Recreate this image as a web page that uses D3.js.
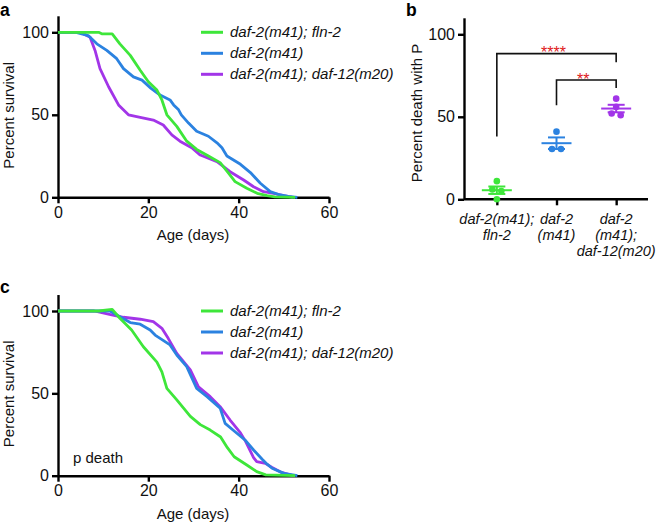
<!DOCTYPE html>
<html><head><meta charset="utf-8">
<script src="https://cdn.jsdelivr.net/npm/d3@7"></script>
<style>
body{margin:0;background:#fff;}
text{font-family:"Liberation Sans",Arial,Helvetica,sans-serif;}
</style></head>
<body>
<svg id="chart" width="657" height="524"></svg>
<script>
// ---------- DATA ----------
const seriesNames = ["daf-2(m41); fln-2", "daf-2(m41)", "daf-2(m41); daf-12(m20)"];
const seriesColors = ["#3ee63a", "#2b82e0", "#a235e8"];

// Panel a: survival (day, percent)
const aFln2 = [[0,100],[9,100],[9.8,99],[12,99],[13.7,93],[16,86],[18.2,77],[20,70],[21.9,65],[23,59],[24.1,50],[26.3,43],[28.5,34],[30.7,29],[33.3,25],[35.9,21],[37.8,14.5],[39.2,9.5],[41.8,5.5],[44.1,2.4],[46.3,1],[48,0.3],[52.5,0]];
const aM41 = [[0,100],[4,100],[6.7,98],[8.6,93],[10.8,89],[13,84],[14.5,78],[16.7,73],[18.6,71],[20.6,66],[22.6,62],[24.8,59],[25.6,56],[26.7,53],[27.3,50],[28.9,45],[30.7,40],[33.3,37],[35.2,33],[36.3,30],[37.4,25],[40.4,20],[42.6,15],[44.8,8.5],[47,3.4],[49.2,1.4],[51,0.5],[53,0]];
const aDaf12 = [[0,100],[5,100],[7.1,97],[8.2,89],[9.3,78],[11.2,67],[13.4,56],[15.6,50],[18.2,48.5],[21.1,46.8],[23.3,43.8],[25.2,37.8],[27,34],[29.6,30],[31.5,25.6],[35.2,21.6],[38.1,15.5],[41.1,10.5],[43.3,6.4],[45.5,3.4],[47.7,2.4],[50,1],[52,0]];

// Panel c: survival, p death
const cFln2 = [[0,100],[9,100],[12,101],[13.7,95.6],[16.3,88.5],[18.9,78.3],[21.9,69],[23,63],[24.1,53],[26.3,46],[29.3,36],[31.5,31],[33.7,27.7],[36,23.5],[37.5,17],[39,11.5],[41.8,6.5],[44,2.5],[46,0.5],[52.5,0]];
const cM41 = [[0,100],[11.5,100],[13.7,96.5],[16,93],[18.2,92],[20.4,88.5],[21.5,85.4],[22.6,83.4],[24.8,79.4],[26.3,73.3],[28.5,66.2],[30.7,53],[33,48],[35.9,41],[37,31.8],[39.2,26.7],[41.4,21.7],[43.3,15.6],[45.2,10],[46.3,7],[47.4,4.5],[50,1.4],[53,0]];
const cDaf12 = [[0,100],[8,100],[11.9,97.6],[14.5,96.2],[18.2,95],[21.1,93.5],[23,89.5],[24.4,83.4],[26.3,74.3],[29.3,64.2],[31.1,54],[33.7,48],[35.9,41.9],[38.1,33.8],[40.4,26],[41.5,21],[43.3,11],[44,8.5],[45.9,7.5],[47.4,5],[49.5,2],[52,0]];

// Panel b: percent death with P
const bCategories = [["daf-2(m41);","fln-2"],["daf-2","(m41)"],["daf-2","(m41);","daf-12(m20)"]];
const bFln2 = [11, 6, 5, 0];
const bM41 = [41, 30.5, 30.5];
const bDaf12 = [61, 56, 52, 51];
// significance brackets: [from, to, top, leftEnd, rightEnd, label]
const bSig = [[0, 2, 88.3, 38, 83, "****"], [1, 2, 72.3, 57, 67.5, "**"]];

const survTicksX = [0, 20, 40, 60];
const survTicksY = [0, 50, 100];

// ---------- DRAW ----------
const svg = d3.select("#chart");
const FONT = 15;
const TICKFONT = 16;

function panelLetter(t, x, y){
  svg.append("text").attr("x", x).attr("y", y).attr("font-size", 17.5).attr("font-weight", "bold").text(t);
}

function survivalPanel(yTop, yZero, data, extraText){
  const x = d3.scaleLinear().domain([0, 60]).range([58, 329]);
  const y = d3.scaleLinear().domain([0, 100]).range([yZero, yTop]);
  const g = svg.append("g");
  const xa = g.append("g").attr("transform", `translate(0,${yZero})`)
    .call(d3.axisBottom(x).tickValues(survTicksX).tickSize(6).tickSizeOuter(0).tickPadding(3));
  const ya = g.append("g").attr("transform", `translate(58,0)`)
    .call(d3.axisLeft(y.copy().domain([0,110]).range([yZero, yZero - (yZero-yTop)*1.1])).tickValues(survTicksY).tickSize(6).tickSizeOuter(0).tickPadding(3));
  [xa, ya].forEach(a => {
    a.selectAll("path,line").attr("stroke", "#000").attr("stroke-width", 2.4);
    a.selectAll("text").attr("font-size", TICKFONT).attr("fill", "#111").attr("font-family", '"Liberation Sans",Arial,sans-serif');
  });
  const line = d3.line().x(d => x(d[0])).y(d => y(d[1]));
  [2, 1, 0].forEach(i => {
    g.append("path").datum(data[i]).attr("d", line).attr("fill", "none")
      .attr("stroke", seriesColors[i]).attr("stroke-width", 2.8).attr("stroke-linejoin", "round");
  });
  seriesNames.forEach((n, i) => {
    const ly = yTop + i * 21;
    g.append("line").attr("x1", 201).attr("x2", 223).attr("y1", ly).attr("y2", ly)
      .attr("stroke", seriesColors[i]).attr("stroke-width", 3);
    g.append("text").attr("x", 230).attr("y", ly + 5).attr("font-size", FONT).attr("font-style", "italic")
      .attr("fill", "#111").text(n);
  });
  g.append("text").attr("x", 193).attr("y", yZero + 43).attr("text-anchor", "middle").attr("font-size", FONT).attr("fill", "#111").text("Age (days)");
  g.append("text").attr("transform", `translate(13.5,${(yTop + yZero) / 2 + 0.5}) rotate(-90)`)
    .attr("text-anchor", "middle").attr("font-size", FONT).attr("fill", "#111").text("Percent survival");
  if (extraText) {
    g.append("text").attr("x", 73).attr("y", yZero - 13).attr("font-size", FONT).attr("fill", "#111").text(extraText);
  }
}

panelLetter("a", 0, 16);
survivalPanel(32.3, 197.3, [aFln2, aM41, aDaf12]);
panelLetter("c", 0, 293);
survivalPanel(311, 475.7, [cFln2, cM41, cDaf12], "p death");

// ---------- Panel b ----------
panelLetter("b", 406, 16);
(function(){
  const y = d3.scaleLinear().domain([0, 110]).range([199.3, 199.3 - 165 * 1.1]);
  const x = d3.scalePoint().domain([0, 1, 2]).range([467, 646]).padding(0.5);
  const g = svg.append("g");
  const ya = g.append("g").attr("transform", "translate(464,0)")
    .call(d3.axisLeft(y).tickValues([0, 50, 100]).tickSize(6).tickSizeOuter(0).tickPadding(3));
  const xa = g.append("g").attr("transform", "translate(0,199.3)")
    .call(d3.axisBottom(x).tickSize(6).tickSizeOuter(0).tickFormat(""));
  xa.select("path.domain").attr("d", "M464,0H648");
  [xa, ya].forEach(a => {
    a.selectAll("path,line").attr("stroke", "#000").attr("stroke-width", 2.4);
    a.selectAll("text").attr("font-size", TICKFONT).attr("fill", "#111");
  });
  bCategories.forEach((lines, i) => {
    const t = g.append("text").attr("x", x(i)).attr("y", 224).attr("text-anchor", "middle")
      .attr("font-size", 14.5).attr("font-style", "italic").attr("fill", "#111");
    lines.forEach((l, k) => t.append("tspan").attr("x", x(i)).attr("dy", k === 0 ? 0 : 16).text(l));
  });
  g.append("text").attr("transform", "translate(422,113) rotate(-90)").attr("text-anchor", "middle")
    .attr("font-size", FONT).attr("fill", "#111").text("Percent death with P");

  function dodge(vals){
    const idx = vals.map((v, i) => i).sort((a, b) => vals[b] - vals[a]);
    const off = new Array(vals.length).fill(0);
    let cluster = [idx[0]];
    const flush = () => { const n = cluster.length; cluster.forEach((ci, k) => off[ci] = (k - (n - 1) / 2) * 9); };
    for (let k = 1; k < idx.length; k++) {
      if (Math.abs(vals[idx[k]] - vals[cluster[cluster.length - 1]]) < 3) cluster.push(idx[k]);
      else { flush(); cluster = [idx[k]]; }
    }
    flush();
    return off;
  }
  [bFln2, bM41, bDaf12].forEach((vals, i) => {
    const c = seriesColors[i];
    const cx = x(i);
    const off = dodge(vals);
    const m = d3.mean(vals);
    const sem = d3.deviation(vals) / Math.sqrt(vals.length);
    g.selectAll(null).data(vals).enter().append("circle")
      .attr("cx", (d, k) => cx + off[k]).attr("cy", d => y(d)).attr("r", 3.3).attr("fill", c);
    g.append("line").attr("x1", cx - 15).attr("x2", cx + 15).attr("y1", y(m)).attr("y2", y(m)).attr("stroke", c).attr("stroke-width", 2);
    [m - sem, m + sem].forEach(v => g.append("line").attr("x1", cx - 8.5).attr("x2", cx + 8.5).attr("y1", y(v)).attr("y2", y(v)).attr("stroke", c).attr("stroke-width", 2));
    g.append("line").attr("x1", cx).attr("x2", cx).attr("y1", y(m - sem)).attr("y2", y(m + sem)).attr("stroke", c).attr("stroke-width", 2);
  });
  bSig.forEach(([a, b, top, le, re, lab]) => {
    const p = d3.path();
    p.moveTo(x(a), y(le)); p.lineTo(x(a), y(top)); p.lineTo(x(b), y(top)); p.lineTo(x(b), y(re));
    g.append("path").attr("d", p.toString()).attr("fill", "none").attr("stroke", "#111").attr("stroke-width", 1.6);
    g.append("text").attr("x", (x(a) + x(b)) / 2 - 3).attr("y", y(top) + 4.5).attr("text-anchor", "middle")
      .attr("font-size", 16).attr("fill", "#e0201c").text(lab);
  });
})();
</script>
</body></html>
